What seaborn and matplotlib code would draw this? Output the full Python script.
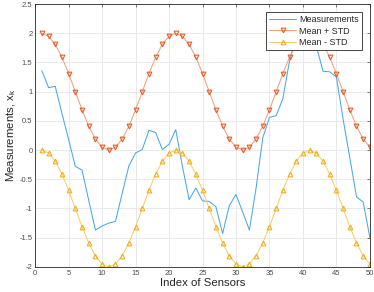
import numpy as np
import pandas as pd
import matplotlib
matplotlib.use("Agg")
import matplotlib.pyplot as plt
import seaborn as sns

# =========================================
# DATA
# =========================================

sensor_index = list(range(1, 51))

measurements = [
    1.36, 1.07, 1.09, 0.63, 0.18, -0.28, -0.34, -0.86, -1.37, -1.30,
    -1.25, -1.22, -0.74, -0.27, -0.05, 0.01, 0.34, 0.30, 0.01, 0.10,
    0.35, -0.28, -0.85, -0.65, -0.87, -0.88, -0.97, -1.43, -0.95, -0.76,
    -1.06, -1.37, -0.65, 0.21, 0.56, 0.59, 0.88, 1.53, 1.95, 2.20,
    2.10, 1.78, 1.35, 1.34, 1.25, 0.53, -0.13, -0.80, -0.89, -1.50,
]

mean_plus_std = [
    2.00, 1.95, 1.81, 1.59, 1.31, 1.00, 0.69, 0.41, 0.19, 0.05,
    0.00, 0.05, 0.19, 0.41, 0.69, 1.00, 1.31, 1.59, 1.81, 1.95,
    2.00, 1.95, 1.81, 1.59, 1.31, 1.00, 0.69, 0.41, 0.19, 0.05,
    0.00, 0.05, 0.19, 0.41, 0.69, 1.00, 1.31, 1.59, 1.81, 1.95,
    2.00, 1.95, 1.81, 1.59, 1.31, 1.00, 0.69, 0.41, 0.19, 0.05,
]

mean_minus_std = [
    0.00, -0.05, -0.19, -0.41, -0.69, -1.00, -1.31, -1.59, -1.81, -1.95,
    -2.00, -1.95, -1.81, -1.59, -1.31, -1.00, -0.69, -0.41, -0.19, -0.05,
    0.00, -0.05, -0.19, -0.41, -0.69, -1.00, -1.31, -1.59, -1.81, -1.95,
    -2.00, -1.95, -1.81, -1.59, -1.31, -1.00, -0.69, -0.41, -0.19, -0.05,
    0.00, -0.05, -0.19, -0.41, -0.69, -1.00, -1.31, -1.59, -1.81, -1.95,
]

x_ticks = list(range(0, 51, 5))
y_ticks = [-2, -1.5, -1, -0.5, 0, 0.5, 1, 1.5, 2, 2.5]

df = pd.DataFrame({
    'Index': sensor_index,
    'Measurements': measurements,
    'Mean + STD': mean_plus_std,
    'Mean - STD': mean_minus_std,
})

# =========================================
# PLOT
# =========================================

sns.set_style("whitegrid")
plt.rcParams['font.family'] = ['Liberation Sans', 'DejaVu Sans']

fig = plt.figure(figsize=(3.74, 2.92), dpi=100)
ax = fig.add_axes([0.094, 0.086, 0.895, 0.900])

sns.lineplot(
    data=df, x='Index', y='Measurements', ax=ax,
    color='#4DA8DF', linewidth=0.75, label='Measurements'
)

sns.lineplot(
    data=df, x='Index', y='Mean + STD', ax=ax,
    color='#F0A080', linewidth=0.75, marker='v',
    markersize=3.4, markerfacecolor='none',
    markeredgecolor='#E0602A', markeredgewidth=0.8,
    label='Mean + STD'
)

sns.lineplot(
    data=df, x='Index', y='Mean - STD', ax=ax,
    color='#F5CF70', linewidth=0.75, marker='^',
    markersize=3.4, markerfacecolor='none',
    markeredgecolor='#EDB120', markeredgewidth=0.8,
    label='Mean - STD'
)

ax.set_xlim(0, 50)
ax.set_ylim(-2, 2.5)
ax.set_xticks(x_ticks)
ax.set_yticks(y_ticks)
ax.set_yticklabels([('%g' % v) for v in y_ticks])

ax.set_xlabel("Index of Sensors", fontsize=8.2, labelpad=1, color='#262626')
ax.set_ylabel("Measurements, $\\mathregular{x_k}$", fontsize=8.2, labelpad=1, color='#262626')

ax.tick_params(axis='both', labelsize=5.5, colors='#4D4D4D', direction='in',
               length=2.5, width=0.5, pad=2, top=True, right=True)
ax.grid(True, color='#E6E6E6', linewidth=0.6)
for side in ['top', 'right', 'bottom', 'left']:
    ax.spines[side].set_visible(True)
    ax.spines[side].set_color('#262626')
    ax.spines[side].set_linewidth(0.6)

leg = ax.legend(loc='upper right', fontsize=6.5, frameon=True, fancybox=False,
                borderpad=0.35, labelspacing=0.25, handlelength=3.0,
                handletextpad=0.3, borderaxespad=0.9)
leg.get_frame().set_edgecolor('#262626')
leg.get_frame().set_linewidth(0.6)
leg.get_frame().set_alpha(1)

fig.savefig("out.png", dpi=100)
